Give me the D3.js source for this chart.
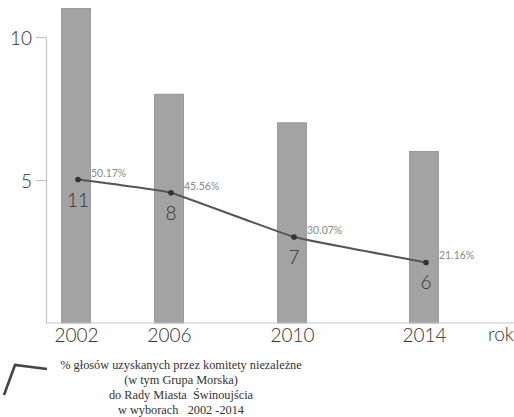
<!DOCTYPE html>
<html>
<head>
<meta charset="utf-8">
<script src="https://cdn.jsdelivr.net/npm/d3@7"></script>
<style>
  html, body { margin: 0; padding: 0; background: #fefefe; }
  svg { display: block; }
</style>
</head>
<body>
<svg id="chart" width="514" height="417"></svg>
<script>
// Election years, seats won, and vote share of independent committees
const years = [2002, 2006, 2010, 2014];
const seats = [11, 8, 7, 6];
const voteShare = [50.17, 45.56, 30.07, 21.16];
const yTicks = [5, 10];
const axisTitle = "rok";
const legendLines = [
  "% głosów uzyskanych przez komitety niezależne",
  "(w tym Grupa Morska)",
  "do Rady Miasta  Świnoujścia",
  "w wyborach   2002 -2014"
];

const svg = d3.select("#chart");
const sans = "Lato, 'Open Sans', sans-serif";

// Year positions along the baseline
const x = d3.scaleLinear().domain(years).range([76, 169, 292, 424]);
const y = d3.scaleLinear().domain([0, 10]).range([323, 37]);
const barW = 29;

// Bars: seats won
svg.append("g").selectAll("rect")
  .data(years)
  .join("rect")
  .attr("x", (d) => x(d) - barW / 2)
  .attr("width", barW)
  .attr("y", (d, i) => y(seats[i]))
  .attr("height", (d, i) => y(0) - y(seats[i]))
  .attr("fill", "#a3a3a3")
  .attr("stroke", "#8e8e8e")
  .attr("stroke-width", 0.8);

// Y axis
const yAxis = svg.append("g")
  .attr("transform", "translate(46,0)")
  .call(d3.axisLeft(y).tickValues(yTicks).tickSize(10).tickSizeOuter(0).tickPadding(4));
yAxis.select(".domain").attr("stroke", "#c4c4c4").attr("stroke-width", 1.2);
yAxis.selectAll(".tick line").attr("stroke", "#c4c4c4").attr("stroke-width", 1.2);
yAxis.selectAll(".tick text")
  .attr("font-family", sans).attr("font-weight", 300)
  .attr("font-size", 19).attr("fill", "#333").attr("dy", "0.38em");

// X axis
const xAxis = svg.append("g")
  .attr("transform", `translate(0,${y(0)})`)
  .call(d3.axisBottom(x).tickValues(years).tickFormat(d3.format("d")).tickSize(0).tickPadding(5));
xAxis.select(".domain").attr("d", `M46,0H514`).attr("stroke", "#c8c8c8").attr("stroke-width", 1.2);
xAxis.selectAll(".tick text")
  .attr("font-family", sans).attr("font-weight", 300)
  .attr("font-size", 19).attr("fill", "#333");

svg.append("text")
  .attr("x", 488).attr("y", 341)
  .attr("font-family", sans).attr("font-weight", 300)
  .attr("font-size", 19).attr("fill", "#333")
  .text(axisTitle);

// Vote share line, plotted at one tenth of the percentage
const pts = years.map((d, i) => [x(d) + 2, y(voteShare[i] / 10)]);
svg.append("path")
  .attr("d", d3.line().curve(d3.curveCardinal.tension(0.75))(pts))
  .attr("fill", "none")
  .attr("stroke", "#555")
  .attr("stroke-width", 2);

svg.append("g").selectAll("circle")
  .data(pts)
  .join("circle")
  .attr("cx", (d) => d[0]).attr("cy", (d) => d[1])
  .attr("r", 2.8).attr("fill", "#333");

// Percentage labels
svg.append("g").selectAll("text")
  .data(pts)
  .join("text")
  .attr("x", (d) => d[0] + 13)
  .attr("y", (d) => d[1] - 3)
  .attr("font-family", sans)
  .attr("font-size", 10.5)
  .attr("fill", "#8a8a8a")
  .text((d, i) => voteShare[i].toFixed(2) + "%");

// Seat counts below the points
svg.append("g").selectAll("text")
  .data(pts)
  .join("text")
  .attr("x", (d) => d[0])
  .attr("y", (d) => d[1] + 27)
  .attr("text-anchor", "middle")
  .attr("font-family", sans).attr("font-weight", 300)
  .attr("font-size", 19)
  .attr("fill", "#333")
  .text((d, i) => seats[i]);

// Legend
svg.append("path")
  .attr("d", "M4,395L15,365L47,369")
  .attr("fill", "none")
  .attr("stroke", "#444")
  .attr("stroke-width", 2.6);

svg.append("g").selectAll("text")
  .data(legendLines)
  .join("text")
  .attr("x", 181)
  .attr("y", (d, i) => 369 + i * 15)
  .attr("text-anchor", "middle")
  .attr("font-family", "'Liberation Serif', 'DejaVu Serif', serif")
  .attr("font-size", 12.3)
  .attr("fill", "#333")
  .style("white-space", "pre")
  .text((d) => d);
</script>
</body>
</html>
